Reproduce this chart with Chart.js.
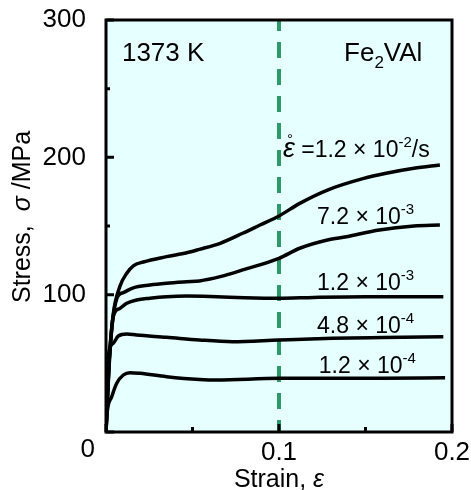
<!DOCTYPE html>
<html>
<head>
<meta charset="utf-8">
<script src="https://cdn.jsdelivr.net/npm/chart.js@4.4.0/dist/chart.umd.min.js"></script>
<style>
  html, body { margin: 0; padding: 0; background: #fff; }
</style>
</head>
<body>
<canvas id="stressChart" width="471" height="490"></canvas>
<script>
// strain-rate labels (mantissa x 10^exp)
const rateMant = ['1.2', '7.2', '1.2', '4.8', '1.2'];
const rateExp = ['-2', '-3', '-3', '-4', '-4'];
// where each label sits (strain, stress)
const noteStrain = [0.1023, 0.122, 0.122, 0.122, 0.123];
const noteStress = [206, 157.3, 109.2, 77.9, 48.8];

// stress-strain curves
const strainA = [0, 0.002, 0.0042, 0.008, 0.012, 0.0158, 0.0216, 0.035, 0.0466, 0.054, 0.066, 0.079, 0.089, 0.1, 0.112, 0.128, 0.149, 0.162, 0.178, 0.193];
const stressA = [0, 55, 86, 106, 115.6, 121, 123.8, 127.7, 130.5, 133, 137.4, 144.7, 150.7, 157.3, 166.5, 176.2, 184.7, 188.4, 192, 194.4];
const strainB = [0, 0.002, 0.0062, 0.01, 0.0158, 0.0254, 0.035, 0.0466, 0.054, 0.066, 0.079, 0.1, 0.112, 0.128, 0.139, 0.158, 0.178, 0.193];
const stressB = [0, 55, 97, 101.5, 105, 107, 108.3, 109.4, 110, 113.1, 118, 126.5, 133.8, 139.8, 142.2, 147.1, 150, 150.7];
const strainC = [0, 0.002, 0.0042, 0.008, 0.012, 0.0177, 0.0254, 0.035, 0.0466, 0.064, 0.08, 0.1, 0.12, 0.15, 0.175, 0.195];
const stressC = [0, 52, 84, 90, 93.7, 96.1, 97.4, 98.5, 99, 98.5, 97.8, 97.4, 98, 98.5, 98.5, 98.5];
const strainD = [0, 0.0013, 0.0042, 0.0071, 0.012, 0.0177, 0.035, 0.054, 0.073, 0.1, 0.131, 0.16, 0.195];
const stressD = [0, 54.8, 64.6, 69.9, 71.4, 70.6, 69, 67, 65.8, 67, 68.2, 68.8, 69.4];
const strainE = [0, 0.0004, 0.0033, 0.0062, 0.01, 0.0139, 0.0197, 0.035, 0.054, 0.064, 0.1, 0.131, 0.16, 0.196];
const stressE = [0, 11, 25.7, 35.5, 41.5, 43.2, 42.7, 40.3, 38.3, 37.9, 39.1, 39.1, 39.2, 39.5];

const refStrain = 0.1;

const FONT = '"Liberation Sans", Arial, sans-serif';

function pts(xs, ys) {
    return xs.map((x, i) => ({ x: x, y: ys[i] }));
}

function curve(xs, ys) {
    return {
        data: pts(xs, ys),
        borderColor: '#000',
        borderWidth: 3.5,
        pointRadius: 0,
        cubicInterpolationMode: 'monotone',
        fill: false
    };
}

// draw a run of text pieces left to right
function drawParts(ctx, x, y, parts) {
    let cx = x;
    parts.forEach(p => {
        ctx.font = (p.italic ? 'italic ' : '') + p.size + 'px ' + FONT;
        ctx.fillText(p.t, cx, y + (p.dy || 0));
        cx += ctx.measureText(p.t).width;
    });
    return cx;
}

function partsWidth(ctx, parts) {
    let w = 0;
    parts.forEach(p => {
        ctx.font = (p.italic ? 'italic ' : '') + p.size + 'px ' + FONT;
        w += ctx.measureText(p.t).width;
    });
    return w;
}

const decor = {
    id: 'decor',
    beforeDraw(chart) {
        const { ctx, chartArea: a } = chart;
        ctx.save();
        ctx.fillStyle = '#e6ffff';
        ctx.fillRect(a.left, a.top, a.right - a.left, a.bottom - a.top);
        ctx.restore();
    },
    afterDraw(chart) {
        const { ctx, chartArea: a, scales } = chart;
        const xs = scales.x, ys = scales.y;
        ctx.save();
        ctx.strokeStyle = '#000';
        ctx.fillStyle = '#000';

        // inner ticks
        ctx.lineWidth = 3;
        ctx.beginPath();
        for (let v = 0; v <= 300; v += 50) {
            const py = ys.getPixelForValue(v);
            const len = v % 100 === 0 ? 8 : 4;
            ctx.moveTo(a.left, py);
            ctx.lineTo(a.left + len, py);
        }
        for (let i = 0; i <= 4; i++) {
            const px = xs.getPixelForValue(i * 0.05);
            const len = i % 2 === 0 ? 8 : 5;
            ctx.moveTo(px, a.bottom);
            ctx.lineTo(px, a.bottom - len);
        }
        ctx.stroke();

        // frame
        ctx.lineWidth = 3;
        ctx.strokeRect(a.left, a.top, a.right - a.left, a.bottom - a.top);

        // shared origin label
        ctx.font = '26px ' + FONT;
        ctx.textAlign = 'right';
        ctx.textBaseline = 'middle';
        ctx.fillText('0', a.left - 11, a.bottom + 18);

        ctx.textAlign = 'left';
        ctx.textBaseline = 'alphabetic';

        // temperature and alloy
        const ty = ys.getPixelForValue(276.7) + 9;
        drawParts(ctx, xs.getPixelForValue(0.0092), ty, [{ t: '1373 K', size: 26 }]);
        drawParts(ctx, xs.getPixelForValue(0.1376), ty, [
            { t: 'Fe', size: 26 }, { t: '2', size: 17, dy: 7 }, { t: 'VAl', size: 26 }
        ]);

        // strain-rate labels
        rateMant.forEach((m, i) => {
            const px = xs.getPixelForValue(noteStrain[i]);
            const py = ys.getPixelForValue(noteStress[i]) + 8;
            const parts = [];
            if (i === 0) {
                parts.push({ t: 'ε', size: 27, italic: true });
            }
            parts.push({ t: (i === 0 ? ' =' : '') + m + ' × 10', size: 23 });
            parts.push({ t: rateExp[i], size: 15, dy: -10 });
            if (i === 0) parts.push({ t: '/s', size: 23 });
            drawParts(ctx, px, py, parts);
            if (i === 0) {
                ctx.font = 'italic 27px ' + FONT;
                const ew = ctx.measureText('ε').width;
                ctx.font = '15px ' + FONT;
                ctx.textAlign = 'center';
                ctx.fillText('°', px + ew / 2 + 1, py - 13);
                ctx.textAlign = 'left';
            }
        });

        // x title
        const xt = [{ t: 'Strain, ', size: 25 }, { t: 'ε', size: 25, italic: true }];
        const xw = partsWidth(ctx, xt);
        drawParts(ctx, xs.getPixelForValue(refStrain) - xw / 2, a.bottom + 55, xt);

        // y title (rotated)
        const yt = [{ t: 'Stress,  ', size: 25 }, { t: 'σ', size: 25, italic: true }, { t: ' /MPa', size: 25 }];
        const yw = partsWidth(ctx, yt);
        ctx.translate(a.left - 76, (a.top + a.bottom) / 2 - 9);
        ctx.rotate(-Math.PI / 2);
        drawParts(ctx, -yw / 2, 0, yt);
        ctx.restore();
    }
};

const ctx = document.getElementById('stressChart').getContext('2d');

const config = {
    type: 'line',
    data: {
        datasets: [
            curve(strainA, stressA),
            curve(strainB, stressB),
            curve(strainC, stressC),
            curve(strainD, stressD),
            curve(strainE, stressE),
            {
                data: [{ x: refStrain, y: 300 }, { x: refStrain, y: 0 }],
                borderColor: '#2e9a6a',
                borderWidth: 4,
                borderDash: [16, 11],
                borderDashOffset: 5,
                pointRadius: 0,
                fill: false
            }
        ]
    },
    options: {
        responsive: false,
        animation: false,
        layout: { padding: { top: 20, right: 19, left: 0, bottom: 0 } },
        plugins: {
            legend: { display: false },
            tooltip: { enabled: false },
            title: { display: false }
        },
        scales: {
            x: {
                type: 'linear',
                min: 0,
                max: 0.2,
                grid: { display: false, drawTicks: false },
                border: { display: false },
                ticks: {
                    stepSize: 0.1,
                    padding: 5,
                    color: '#000',
                    font: { family: FONT, size: 26 },
                    callback: v => (v === 0 ? '' : String(Math.round(v * 10) / 10))
                },
                afterFit: s => {
                    s.height = 58;
                    s.paddingLeft = 0;
                    s.paddingRight = 0;
                }
            },
            y: {
                min: 0,
                max: 300,
                grid: { display: false, drawTicks: false },
                border: { display: false },
                ticks: {
                    stepSize: 100,
                    padding: 20,
                    color: '#000',
                    font: { family: FONT, size: 26 },
                    callback: v => (v === 0 ? '' : v)
                },
                afterFit: s => {
                    s.width = 106;
                    s.paddingTop = 0;
                    s.paddingBottom = 0;
                }
            }
        }
    },
    plugins: [decor]
};

if (window.stressChart instanceof Chart) {
    window.stressChart.destroy();
}
window.stressChart = new Chart(ctx, config);
</script>
</body>
</html>
